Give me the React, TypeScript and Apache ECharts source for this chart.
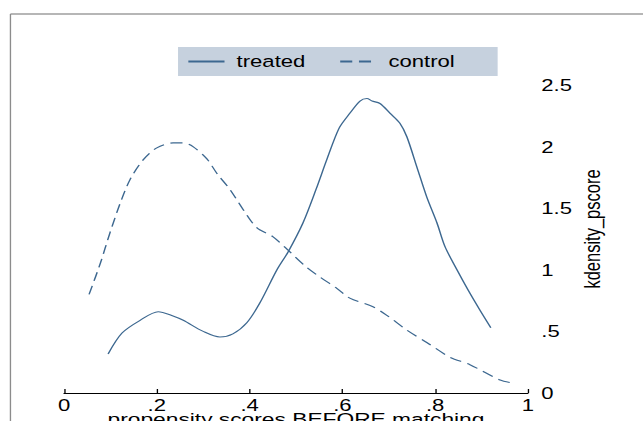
import React, { useEffect, useRef } from "react";
import * as echarts from "echarts";

// ---- data ----
const xTickLabels = ["0", ".2", ".4", ".6", ".8", "1"];
const yTickLabels = ["0", ".5", "1", "1.5", "2", "2.5"];

const treated: [number, number][] = [
  [0.095, 0.317], [0.125, 0.487], [0.164, 0.59], [0.203, 0.66], [0.235, 0.625],
  [0.257, 0.59], [0.3, 0.5], [0.336, 0.455], [0.364, 0.48], [0.394, 0.57],
  [0.422, 0.73], [0.459, 1.0], [0.483, 1.145], [0.515, 1.38], [0.543, 1.65],
  [0.567, 1.9], [0.593, 2.15], [0.616, 2.27], [0.638, 2.37], [0.653, 2.39],
  [0.664, 2.37], [0.681, 2.35], [0.703, 2.27], [0.724, 2.19], [0.739, 2.08],
  [0.761, 1.83], [0.782, 1.59], [0.804, 1.38], [0.821, 1.19], [0.847, 1.0],
  [0.871, 0.836], [0.897, 0.67], [0.92, 0.53],
];

const control: [number, number][] = [
  [0.054, 0.8], [0.078, 1.05], [0.099, 1.3], [0.121, 1.54], [0.142, 1.73],
  [0.17, 1.89], [0.2, 1.99], [0.235, 2.03], [0.257, 2.03], [0.278, 2.0],
  [0.308, 1.9], [0.33, 1.78], [0.358, 1.65], [0.386, 1.49], [0.416, 1.34],
  [0.45, 1.27], [0.487, 1.145], [0.523, 1.02], [0.552, 0.94], [0.588, 0.85],
  [0.616, 0.77], [0.666, 0.7], [0.696, 0.63], [0.739, 0.51], [0.782, 0.41],
  [0.832, 0.29], [0.875, 0.23], [0.94, 0.105], [0.961, 0.085],
];

const LINE_COLOR = "#3d6890";
const FONT = "'Liberation Sans', Arial, Helvetica, sans-serif";
const BASE_W = 480;
const H = 421;
const STRETCH = 643 / BASE_W;

export default function App() {
  const ref = useRef<HTMLDivElement>(null);

  useEffect(() => {
    if (!ref.current) return;
    const chart = echarts.init(ref.current, undefined, {
      renderer: "svg",
      width: BASE_W,
      height: H,
    });
    chart.setOption({
      animation: false,
      backgroundColor: "#ffffff",
      textStyle: { fontFamily: FONT },
      graphic: [
        {
          type: "line",
          shape: { x1: 7.8, y1: 14, x2: BASE_W, y2: 14 },
          style: { stroke: "#b6b6b6", lineWidth: 2 },
          silent: true,
        },
        {
          type: "line",
          shape: { x1: 7.8, y1: 14, x2: 7.8, y2: H },
          style: { stroke: "#8c8c8c", lineWidth: 1 },
          silent: true,
        },
      ],
      legend: {
        left: 132.9,
        top: 47,
        orient: "horizontal",
        backgroundColor: "#c6d1de",
        padding: [6, 32, 6, 6.7],
        itemGap: 25,
        itemWidth: 27,
        itemHeight: 14,
        itemStyle: { color: "rgba(0,0,0,0)", borderWidth: 0, opacity: 0 },
        textStyle: {
          fontSize: 16.5,
          color: "#000000",
          fontFamily: FONT,
          padding: [0, 0, 0, 4],
        },
        data: ["treated", "control"],
      },
      grid: {
        left: 47.8,
        right: 85.9,
        top: 85,
        bottom: 28,
        containLabel: false,
        outerBoundsMode: "none",
      },
      xAxis: {
        type: "value",
        min: 0,
        max: 1,
        interval: 0.2,
        name: "propensity scores BEFORE matching",
        nameLocation: "middle",
        nameGap: 17.5,
        nameMoveOverlap: false,
        nameTextStyle: { fontSize: 17, color: "#000", fontFamily: FONT },
        axisLine: { show: true, onZero: false, lineStyle: { color: "#000", width: 1 } },
        axisTick: { show: true, inside: true, length: 4, lineStyle: { color: "#000", width: 1 } },
        axisLabel: {
          margin: 4,
          fontSize: 16.5,
          color: "#000",
          fontFamily: FONT,
          formatter: (v: number) => xTickLabels[Math.round(v / 0.2)] ?? "",
        },
        splitLine: { show: false },
      },
      yAxis: {
        type: "value",
        position: "right",
        min: 0,
        max: 2.5,
        interval: 0.5,
        name: "kdensity_pscore",
        nameLocation: "middle",
        nameGap: 39.5,
        nameMoveOverlap: false,
        nameTextStyle: {
          fontSize: 16.5,
          color: "#000",
          fontFamily: FONT,
          padding: [0, 0, 0, 20],
        },
        axisLine: { show: false },
        axisTick: { show: false },
        axisLabel: {
          margin: 10,
          fontSize: 16.5,
          color: "#000",
          fontFamily: FONT,
          formatter: (v: number) => yTickLabels[Math.round(v / 0.5)] ?? "",
        },
        splitLine: { show: false },
      },
      series: [
        {
          name: "treated",
          type: "line",
          data: treated,
          smooth: 0.3,
          symbol: "none",
          showSymbol: false,
          color: LINE_COLOR,
          lineStyle: { color: LINE_COLOR, width: 1.1, type: "solid" },
        },
        {
          name: "control",
          type: "line",
          data: control,
          smooth: 0.3,
          symbol: "none",
          showSymbol: false,
          color: LINE_COLOR,
          lineStyle: { color: LINE_COLOR, width: 1.1, type: [9, 5] },
        },
      ],
    });
    return () => chart.dispose();
  }, []);

  return (
    <div
      style={{
        position: "fixed",
        left: 0,
        top: 0,
        width: 643,
        height: H,
        overflow: "hidden",
        background: "#ffffff",
      }}
    >
      <div
        ref={ref}
        style={{
          width: BASE_W,
          height: H,
          transform: `scaleX(${STRETCH})`,
          transformOrigin: "0 0",
        }}
      />
    </div>
  );
}
